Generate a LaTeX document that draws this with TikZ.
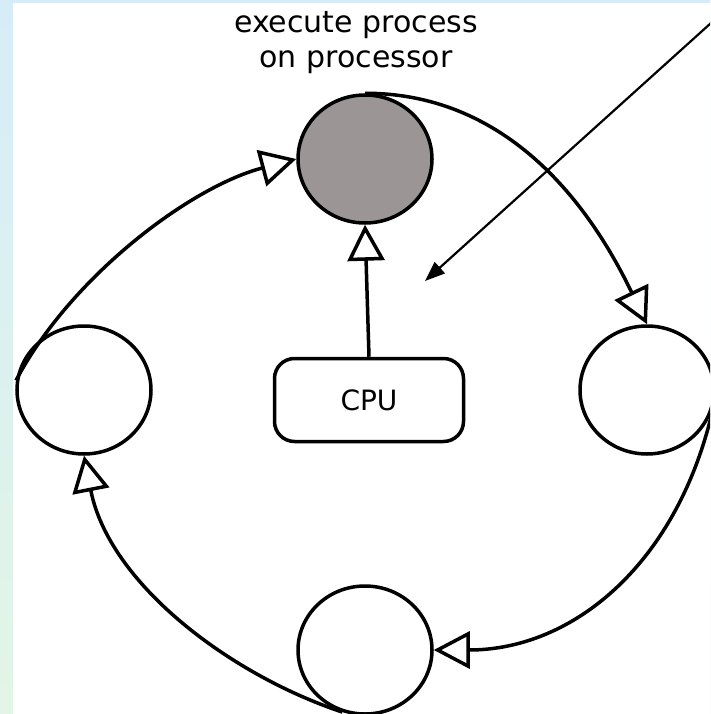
\documentclass[tikz,border=0pt]{standalone}
\usepackage{fontspec}
\setmainfont{DejaVu Sans}
\usetikzlibrary{arrows.meta,shapes.geometric}
\definecolor{procgray}{RGB}{155,149,149}
\definecolor{edgeblue}{RGB}{214,237,248}
\definecolor{edgegreen}{RGB}{226,245,230}

\begin{document}
\begin{tikzpicture}[x=1pt,y=-1pt,
  procstate/.style={ellipse, draw, line width=3.5pt, fill=white,
    minimum width=134pt, minimum height=128pt, inner sep=0pt},
  flow/.style={line width=3.5pt, -{Triangle[open,length=36pt,width=37pt]}},
  unit/.style={draw, line width=3.5pt, rounded corners=20pt, fill=white,
    minimum width=189pt, minimum height=83pt, font=\fontsize{28}{34}\selectfont},
  pointer/.style={line width=2.2pt, -{Triangle[length=20pt,width=15pt]}}]
% page frame with the tinted left and top edges
\useasboundingbox (0,0) rectangle (710,714);
\clip (0,0) rectangle (710,714);
\shade[top color=edgeblue, bottom color=edgegreen] (0,0) rectangle (710,714);
\fill[white] (13,3) rectangle (710,714);

% process states
\node[procstate, fill=procgray] (run) at (365,159) {};
\node[procstate] (ready) at (84,390) {};
\node[procstate] (wait) at (647,390) {};
\node[procstate] (blocked) at (365,650) {};
\node[unit] (cpu) at (369,400) {CPU};
\node[align=center, font=\fontsize{30}{35}\selectfont] (caption) at (356,43)
  {execute process\\on processor};

% state transitions
\draw[flow] (ready.172) .. controls +(55,-104) and +(-106,28) .. (run.west);
\draw[flow] (run.north) .. controls +(150,0) and +(-52,-108) .. (wait.north);
\draw[flow] (wait.-15) .. controls +(-35,155) and +(140,0) .. (blocked.east);
\draw[flow] (blocked.250) .. controls +(-114,-38) and +(25,127) .. (ready.south);
\draw[flow] (cpu.north) -- (run.south);

% pointer into the cycle
\coordinate (ptrFrom) at (711,23);
\coordinate (ptrTo) at (425,281);
\draw[pointer] (ptrFrom) -- (ptrTo);
\end{tikzpicture}
\end{document}
